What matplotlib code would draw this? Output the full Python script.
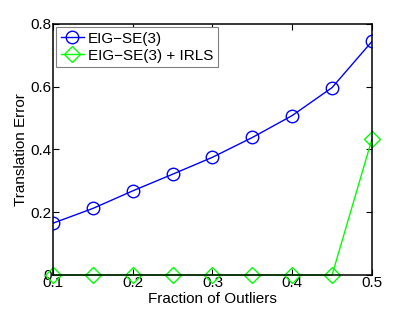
import matplotlib
matplotlib.use('Agg')
import matplotlib.pyplot as plt
import numpy as np

plt.rcParams['font.family'] = ['Liberation Sans', 'DejaVu Sans']

# fraction of outliers
outliers = [0.1, 0.15, 0.2, 0.25, 0.3, 0.35, 0.4, 0.45, 0.5]
eig_se3 = [0.165, 0.212, 0.268, 0.321, 0.375, 0.438, 0.508, 0.597, 0.744]
eig_se3_irls = [0.0, 0.0, 0.0, 0.0, 0.0, 0.0, 0.0, 0.0, 0.433]

fig = plt.figure(figsize=(4.11, 3.1), dpi=100)
ax = fig.add_axes([0.129, 0.113, 0.776, 0.81])

ax.plot(outliers, eig_se3, color='#0000ff', marker='o', markersize=9,
        markerfacecolor='none', markeredgewidth=1, linewidth=1, label='EIG\u2212SE(3)')
ax.plot(outliers, eig_se3_irls, color='#00ff00', marker='D', markersize=8,
        markerfacecolor='none', markeredgewidth=1, linewidth=1, label='EIG\u2212SE(3) + IRLS',
        clip_on=False)

ax.set_xlim(0.1, 0.5)
ax.set_ylim(0, 0.8)
ax.set_xticks([0.1, 0.2, 0.3, 0.4, 0.5])
ax.set_xticklabels(['0.1', '0.2', '0.3', '0.4', '0.5'])
ax.set_yticks([0, 0.2, 0.4, 0.6, 0.8])
ax.set_yticklabels(['0', '0.2', '0.4', '0.6', '0.8'])
for s in ax.spines.values():
    s.set_linewidth(1.1)
ax.tick_params(direction='in', top=True, right=True, labelsize=11, pad=1, length=4)
ax.set_xlabel('Fraction of Outliers', fontsize=11, labelpad=1)
ax.set_ylabel('Translation Error', fontsize=11, labelpad=2)

leg = ax.legend(loc='upper left', fontsize=11, handlelength=1.5, handletextpad=0.3,
                borderpad=0.3, labelspacing=0.2, borderaxespad=0.2, fancybox=False,
                framealpha=1, edgecolor='#808080')
leg.get_frame().set_linewidth(0.8)

fig.savefig('out.png', dpi=100)
